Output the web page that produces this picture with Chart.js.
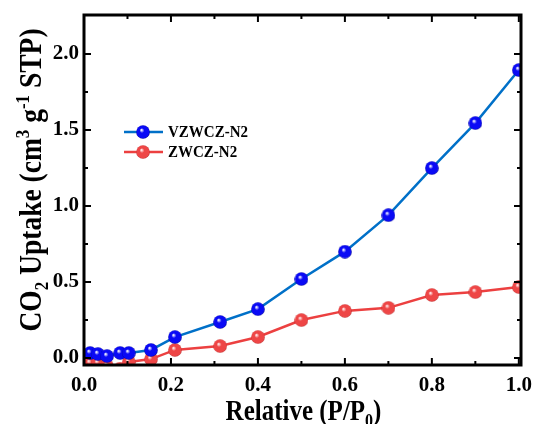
<!DOCTYPE html>
<html>
<head>
<meta charset="utf-8">
<script src="https://cdn.jsdelivr.net/npm/chart.js@4"></script>
<style>
  html, body { margin: 0; padding: 0; background: #fff; }
  canvas { display: block; }
</style>
</head>
<body>
<canvas id="uptakeChart" width="537" height="424"></canvas>
<script>
const pressure = [0.014, 0.032, 0.053, 0.083, 0.103, 0.154, 0.209, 0.313, 0.4, 0.5, 0.6, 0.7, 0.8, 0.9, 1.0];
const vzwcz = [0.033, 0.026, 0.013, 0.033, 0.033, 0.053, 0.138, 0.237, 0.322, 0.52, 0.70, 0.94, 1.25, 1.546, 1.895];
const zwcz = [-0.033, -0.033, -0.053, -0.07, -0.026, -0.007, 0.053, 0.079, 0.138, 0.25, 0.31, 0.33, 0.415, 0.434, 0.467];
const seriesNames = ['VZWCZ-N2', 'ZWCZ-N2'];
const xTicks = [0, 0.2, 0.4, 0.6, 0.8, 1.0];
const xMinor = [0.1, 0.3, 0.5, 0.7, 0.9];
const yTicks = [0, 0.5, 1.0, 1.5, 2.0];
const yMinor = [0.25, 0.75, 1.25, 1.75];

const FONT = '"Liberation Serif", "Times New Roman", serif';

// little shaded ball used as the marker
function makeBall(body, dark, light) {
    const c = document.createElement('canvas');
    c.width = 14; c.height = 14;
    const g = c.getContext('2d');
    const grad = g.createRadialGradient(5.5, 5, 0.5, 7, 7, 7);
    grad.addColorStop(0, light);
    grad.addColorStop(0.3, body);
    grad.addColorStop(0.85, body);
    grad.addColorStop(1, dark);
    g.fillStyle = grad;
    g.beginPath();
    g.arc(7, 7, 6.8, 0, Math.PI * 2);
    g.fill();
    return c;
}
const blueBall = makeBall('#0a0af5', '#00008a', '#e8e8ff');
const redBall = makeBall('#ee4646', '#b82a2a', '#ffe0e0');

// text with sub/superscripts
function drawRich(ctx, parts, size) {
    const small = Math.round(size * 0.62);
    let total = 0;
    parts.forEach(p => {
        ctx.font = 'bold ' + (p.s ? small : size) + 'px ' + FONT;
        p.w = ctx.measureText(p.t).width;
        total += p.w;
    });
    let x = -total / 2;
    parts.forEach(p => {
        ctx.font = 'bold ' + (p.s ? small : size) + 'px ' + FONT;
        let dy = 0;
        if (p.s === 'sub') dy = size * 0.22;
        if (p.s === 'sup') dy = -size * 0.38;
        ctx.fillText(p.t, x, dy);
        x += p.w;
    });
}

const framePlugin = {
    id: 'frame',
    afterDraw(chart) {
        const ctx = chart.ctx;
        const a = chart.chartArea;
        const xs = chart.scales.x, ys = chart.scales.y;
        ctx.save();
        ctx.strokeStyle = '#000';
        ctx.lineWidth = 2;
        // ticks pointing inwards on all four sides
        const tick = (vals, len) => {
            vals.forEach(v => {
                const px = xs.getPixelForValue(v);
                ctx.beginPath();
                ctx.moveTo(px, a.bottom); ctx.lineTo(px, a.bottom - len);
                ctx.moveTo(px, a.top); ctx.lineTo(px, a.top + len);
                ctx.stroke();
            });
        };
        const tickY = (vals, len) => {
            vals.forEach(v => {
                const py = ys.getPixelForValue(v);
                ctx.beginPath();
                ctx.moveTo(a.left, py); ctx.lineTo(a.left + len, py);
                ctx.moveTo(a.right, py); ctx.lineTo(a.right - len, py);
                ctx.stroke();
            });
        };
        tick(xTicks, 7); tick(xMinor, 4);
        tickY(yTicks, 7); tickY(yMinor, 4);
        ctx.lineWidth = 3;
        ctx.strokeRect(a.left, a.top, a.right - a.left, a.bottom - a.top);

        // legend
        const rows = [
            { name: seriesNames[0], color: '#0070c8', ball: blueBall, y: 132 },
            { name: seriesNames[1], color: '#ec4040', ball: redBall, y: 152 }
        ];
        rows.forEach(r => {
            ctx.strokeStyle = r.color;
            ctx.lineWidth = 2.5;
            ctx.beginPath();
            ctx.moveTo(124, r.y); ctx.lineTo(163, r.y);
            ctx.stroke();
            ctx.drawImage(r.ball, 143 - 7, r.y - 7);
            ctx.fillStyle = '#000';
            ctx.font = 'bold 15px ' + FONT;
            ctx.textBaseline = 'middle';
            ctx.textAlign = 'left';
            ctx.save();
            ctx.translate(168, r.y + 1);
            ctx.scale(1, 1.15);
            ctx.fillText(r.name, 0, 0);
            ctx.restore();
        });

        // axis titles (the original lettering is a bit tall and narrow)
        ctx.fillStyle = '#000';
        ctx.textBaseline = 'alphabetic';
        ctx.textAlign = 'left';
        ctx.save();
        ctx.translate((a.left + a.right) / 2 + 1, 420);
        ctx.scale(1, 1.2);
        drawRich(ctx, [{ t: 'Relative (P/P' }, { t: '0', s: 'sub' }, { t: ')' }], 25);
        ctx.restore();

        ctx.save();
        ctx.translate(41, 180);
        ctx.rotate(-Math.PI / 2);
        ctx.scale(1, 1.15);
        drawRich(ctx, [
            { t: 'CO' }, { t: '2', s: 'sub' }, { t: ' Uptake (cm' }, { t: '3', s: 'sup' },
            { t: ' g' }, { t: '-1', s: 'sup' }, { t: ' STP)' }
        ], 27.5);
        ctx.restore();
        ctx.restore();
    }
};

const ctx = document.getElementById('uptakeChart').getContext('2d');
new Chart(ctx, {
    type: 'line',
    data: {
        datasets: [{
            label: seriesNames[0],
            data: pressure.map((p, i) => ({ x: p, y: vzwcz[i] })),
            borderColor: '#0070c8',
            borderWidth: 2.5,
            pointStyle: blueBall,
            pointRadius: 7,
            tension: 0,
            clip: 0
        }, {
            label: seriesNames[1],
            data: pressure.map((p, i) => ({ x: p, y: zwcz[i] })),
            borderColor: '#ec4040',
            borderWidth: 2.5,
            pointStyle: redBall,
            pointRadius: 7,
            tension: 0,
            clip: 0
        }]
    },
    options: {
        responsive: false,
        animation: false,
        devicePixelRatio: 1,
        layout: { padding: { left: 0, top: 15, right: 16, bottom: 0 } },
        plugins: { legend: { display: false }, tooltip: { enabled: false } },
        scales: {
            x: {
                type: 'linear',
                min: 0, max: 1.005,
                grid: { display: false, drawTicks: false },
                border: { display: false },
                afterBuildTicks: s => { s.ticks = xTicks.map(v => ({ value: v })); },
                afterFit: s => { s.height = 59; s.paddingLeft = 0; s.paddingRight = 0; },
                ticks: {
                    color: '#000', padding: 8,
                    font: { family: FONT, size: 21, weight: 'bold' },
                    callback: v => v.toFixed(1)
                }
            },
            y: {
                min: -0.046, max: 2.257,
                grid: { display: false, drawTicks: false },
                border: { display: false },
                afterBuildTicks: s => { s.ticks = yTicks.map(v => ({ value: v })); },
                afterFit: s => { s.width = 84; s.paddingTop = 0; s.paddingBottom = 0; },
                ticks: {
                    color: '#000', padding: 5,
                    font: { family: FONT, size: 21, weight: 'bold' },
                    callback: v => v.toFixed(1)
                }
            }
        }
    },
    plugins: [framePlugin]
});
</script>
</body>
</html>
